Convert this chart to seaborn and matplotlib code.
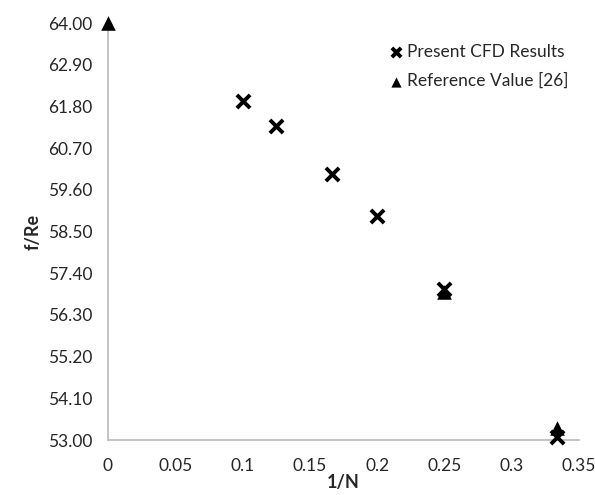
import numpy as np
import pandas as pd
import matplotlib
matplotlib.use("Agg")
import matplotlib.pyplot as plt
import seaborn as sns

# data
cfd_x = [0.1, 0.125, 1 / 6, 0.2, 0.25, 1 / 3]
cfd_y = [61.94, 61.28, 60.02, 58.91, 56.98, 53.08]
ref_x = [0.0, 0.25, 1 / 3]
ref_y = [64.00, 56.91, 53.33]
y_ticks = [53.00, 54.10, 55.20, 56.30, 57.40, 58.50, 59.60, 60.70, 61.80, 62.90, 64.00]
x_ticks = [0, 0.05, 0.1, 0.15, 0.2, 0.25, 0.3, 0.35]
x_labels = ["0", "0.05", "0.1", "0.15", "0.2", "0.25", "0.3", "0.35"]

sns.set_style("white")
plt.rcParams["font.family"] = ["Lato", "DejaVu Sans"]

cfd = pd.DataFrame({"x": cfd_x, "y": cfd_y})
ref = pd.DataFrame({"x": ref_x, "y": ref_y})

fig = plt.figure(figsize=(5.95, 4.95), dpi=100)
ax = fig.add_axes([0.1815, 0.111, 0.7915, 0.8425])

sns.scatterplot(data=ref, x="x", y="y", ax=ax, marker="^", s=110, color="black",
                edgecolor="black", linewidth=0, label="Reference Value [26]",
                clip_on=False, zorder=3)
sns.scatterplot(data=cfd, x="x", y="y", ax=ax, marker="x", s=90, color="black",
                linewidth=2.8, label="Present CFD Results", clip_on=False, zorder=4)

ax.set_xlim(0, 0.35)
ax.set_ylim(53, 64)
ax.set_xticks(x_ticks)
ax.set_xticklabels(x_labels)
ax.set_yticks(y_ticks)
ax.set_yticklabels([f"{v:.2f}" for v in y_ticks])

for side in ["top", "right"]:
    ax.spines[side].set_visible(False)
for side in ["left", "bottom"]:
    ax.spines[side].set_color("#BFBFBF")
    ax.spines[side].set_linewidth(1.3)
ax.tick_params(axis="both", direction="out", length=5, width=1.3, color="#BFBFBF",
               labelsize=12.5, labelcolor="#262626", pad=6)
ax.tick_params(axis="x", pad=8)

ax.set_xlabel("1/N", fontsize=13, fontweight="bold", labelpad=0)
ax.set_ylabel("f/Re", fontsize=13, fontweight="bold", labelpad=5)

handles, labels = ax.get_legend_handles_labels()
ax.legend(handles[::-1], labels[::-1], loc="upper right", frameon=False, fontsize=12.5,
          handletextpad=0.05, borderaxespad=0.2, labelspacing=0.75, handlelength=1.2,
          bbox_to_anchor=(1.0, 0.975), markerscale=0.7)

fig.savefig("out.png", dpi=100)
